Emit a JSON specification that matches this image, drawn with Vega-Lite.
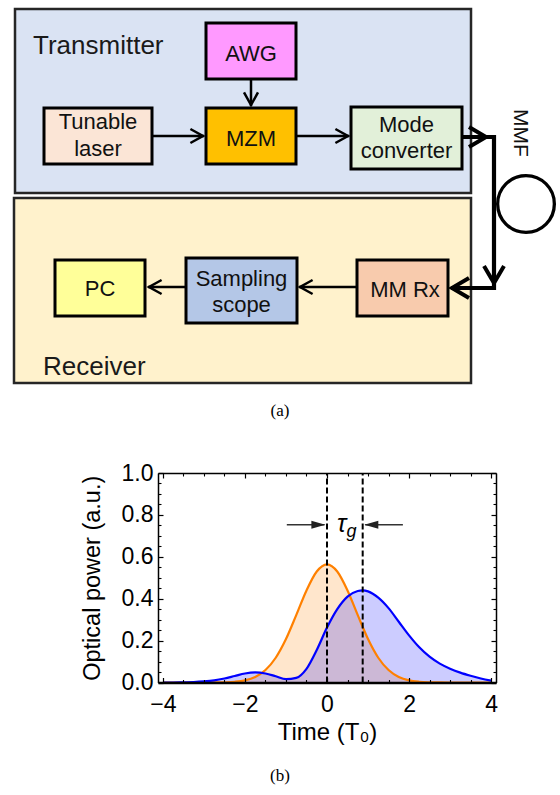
{
  "$schema": "https://vega.github.io/schema/vega-lite/v6.json",
  "width": 560,
  "height": 795,
  "autosize": {"type": "none"},
  "padding": 0,
  "background": "white",
  "config": {"font": "Liberation Sans", "view": {"stroke": null}},
  "datasets": {
    "panels": [
      {"name": "Transmitter", "x": 15, "x2": 471, "y": 9, "y2": 193},
      {"name": "Receiver", "x": 14, "x2": 471, "y": 198, "y2": 383}
    ],
    "blocks": [
      {"name": "AWG", "x": 206, "x2": 296, "y": 23, "y2": 79},
      {"name": "Tunable laser", "x": 44, "x2": 152, "y": 108, "y2": 164},
      {"name": "MZM", "x": 206, "x2": 296, "y": 108, "y2": 164},
      {"name": "Mode converter", "x": 351, "x2": 462, "y": 107, "y2": 169},
      {"name": "PC", "x": 55, "x2": 145, "y": 260, "y2": 316},
      {"name": "Sampling scope", "x": 186, "x2": 297, "y": 258, "y2": 323},
      {"name": "MM Rx", "x": 357, "x2": 448, "y": 260, "y2": 316}
    ],
    "wires": [
      {"x": 152, "x2": 204, "y": 136, "y2": 136},
      {"x": 296, "x2": 349, "y": 136, "y2": 136},
      {"x": 251, "x2": 251, "y": 79, "y2": 106},
      {"x": 357, "x2": 299, "y": 287, "y2": 287},
      {"x": 186, "x2": 148, "y": 287, "y2": 287}
    ],
    "fiber": [
      {"x": 462, "x2": 496, "y": 137, "y2": 137},
      {"x": 494, "x2": 494, "y": 135, "y2": 290},
      {"x": 496, "x2": 451, "y": 288, "y2": 288}
    ],
    "heads": [
      {"x": 203, "y": 136, "dir": "right", "w": "thin"},
      {"x": 348, "y": 136, "dir": "right", "w": "thin"},
      {"x": 251, "y": 105, "dir": "down", "w": "thin"},
      {"x": 300, "y": 287, "dir": "left", "w": "thin"},
      {"x": 149, "y": 287, "dir": "left", "w": "thin"},
      {"x": 486, "y": 137, "dir": "right", "w": "thick"},
      {"x": 494, "y": 283, "dir": "down", "w": "thick"},
      {"x": 452, "y": 288, "dir": "left", "w": "thick"}
    ],
    "loop": [{"x": 526, "y": 204}],
    "titles": [
      {"text": "Transmitter", "x": 33, "y": 54},
      {"text": "Receiver", "x": 43, "y": 375}
    ],
    "labels": [
      {"text": "Tunable", "x": 98, "y": 129},
      {"text": "laser", "x": 98, "y": 156},
      {"text": "AWG", "x": 251, "y": 61},
      {"text": "MZM", "x": 251, "y": 145.5},
      {"text": "Mode", "x": 406.5, "y": 132},
      {"text": "converter", "x": 406.5, "y": 158},
      {"text": "PC", "x": 100, "y": 296},
      {"text": "Sampling", "x": 241.5, "y": 286},
      {"text": "scope", "x": 241.5, "y": 312},
      {"text": "MM Rx", "x": 405, "y": 297}
    ],
    "mmf": [{"text": "MMF", "x": 520, "y": 133}],
    "captions": [
      {"text": "(a)", "x": 280, "y": 416},
      {"text": "(b)", "x": 280, "y": 781}
    ],
    "pulses": [
      {"t": -4, "p": 0, "series": "input"},
      {"t": -3.75, "p": 0, "series": "input"},
      {"t": -3.5, "p": 0, "series": "input"},
      {"t": -3.25, "p": 0, "series": "input"},
      {"t": -3, "p": 0.0001, "series": "input"},
      {"t": -2.75, "p": 0.0003, "series": "input"},
      {"t": -2.5, "p": 0.0011, "series": "input"},
      {"t": -2.25, "p": 0.0036, "series": "input"},
      {"t": -2, "p": 0.0103, "series": "input"},
      {"t": -1.75, "p": 0.0264, "series": "input"},
      {"t": -1.5, "p": 0.0595, "series": "input"},
      {"t": -1.25, "p": 0.1182, "series": "input"},
      {"t": -1, "p": 0.2076, "series": "input"},
      {"t": -0.75, "p": 0.3215, "series": "input"},
      {"t": -0.5, "p": 0.4394, "series": "input"},
      {"t": -0.25, "p": 0.53, "series": "input"},
      {"t": 0, "p": 0.5642, "series": "input"},
      {"t": 0.25, "p": 0.53, "series": "input"},
      {"t": 0.5, "p": 0.4394, "series": "input"},
      {"t": 0.75, "p": 0.3215, "series": "input"},
      {"t": 1, "p": 0.2076, "series": "input"},
      {"t": 1.25, "p": 0.1182, "series": "input"},
      {"t": 1.5, "p": 0.0595, "series": "input"},
      {"t": 1.75, "p": 0.0264, "series": "input"},
      {"t": 2, "p": 0.0103, "series": "input"},
      {"t": 2.25, "p": 0.0036, "series": "input"},
      {"t": 2.5, "p": 0.0011, "series": "input"},
      {"t": 2.75, "p": 0.0003, "series": "input"},
      {"t": 3, "p": 0.0001, "series": "input"},
      {"t": 3.25, "p": 0, "series": "input"},
      {"t": 3.5, "p": 0, "series": "input"},
      {"t": 3.75, "p": 0, "series": "input"},
      {"t": 4, "p": 0, "series": "input"},
      {"t": -4, "p": 0, "series": "output"},
      {"t": -3.75, "p": 0, "series": "output"},
      {"t": -3.5, "p": 0.001, "series": "output"},
      {"t": -3.25, "p": 0.002, "series": "output"},
      {"t": -3, "p": 0.005, "series": "output"},
      {"t": -2.75, "p": 0.01, "series": "output"},
      {"t": -2.5, "p": 0.019, "series": "output"},
      {"t": -2.25, "p": 0.031, "series": "output"},
      {"t": -2, "p": 0.043, "series": "output"},
      {"t": -1.75, "p": 0.048, "series": "output"},
      {"t": -1.5, "p": 0.043, "series": "output"},
      {"t": -1.25, "p": 0.03, "series": "output"},
      {"t": -1, "p": 0.016, "series": "output"},
      {"t": -0.75, "p": 0.022, "series": "output"},
      {"t": -0.5, "p": 0.065, "series": "output"},
      {"t": -0.25, "p": 0.155, "series": "output"},
      {"t": 0, "p": 0.262, "series": "output"},
      {"t": 0.25, "p": 0.35, "series": "output"},
      {"t": 0.5, "p": 0.41, "series": "output"},
      {"t": 0.75, "p": 0.437, "series": "output"},
      {"t": 0.875, "p": 0.44, "series": "output"},
      {"t": 1, "p": 0.435, "series": "output"},
      {"t": 1.25, "p": 0.405, "series": "output"},
      {"t": 1.5, "p": 0.355, "series": "output"},
      {"t": 1.75, "p": 0.29, "series": "output"},
      {"t": 2, "p": 0.225, "series": "output"},
      {"t": 2.25, "p": 0.168, "series": "output"},
      {"t": 2.5, "p": 0.123, "series": "output"},
      {"t": 2.75, "p": 0.09, "series": "output"},
      {"t": 3, "p": 0.066, "series": "output"},
      {"t": 3.25, "p": 0.047, "series": "output"},
      {"t": 3.5, "p": 0.032, "series": "output"},
      {"t": 3.75, "p": 0.019, "series": "output"},
      {"t": 4, "p": 0.009, "series": "output"}
    ],
    "delays": [
      {"t": 0, "p": 0, "p2": 1},
      {"t": 0.87, "p": 0, "p2": 1}
    ],
    "tauArrows": [
      {"t": -0.98, "t2": -0.06, "p": 0.753},
      {"t": 1.85, "t2": 0.93, "p": 0.753}
    ],
    "tauHeads": [
      {"t": -0.04, "p": 0.753, "dir": "right"},
      {"t": 0.91, "p": 0.753, "dir": "left"}
    ],
    "tauText": [
      {"label": "τ", "t": 0.36, "p": 0.716, "part": "main"},
      {"label": "g", "t": 0.6, "p": 0.696, "part": "sub"}
    ]
  },
  "layer": [
    {
      "encoding": {
        "x": {"field": "x", "type": "quantitative", "scale": {"domain": [0, 560], "nice": false, "zero": false}, "axis": null},
        "y": {"field": "y", "type": "quantitative", "scale": {"domain": [0, 795], "nice": false, "zero": false, "reverse": true}, "axis": null}
      },
      "layer": [
        {
          "data": {"name": "panels"},
          "mark": {"type": "rect", "stroke": "#262626", "strokeWidth": 2.5},
          "encoding": {
            "x2": {"field": "x2"},
            "y2": {"field": "y2"},
            "fill": {"field": "name", "type": "nominal", "legend": null,
              "scale": {"domain": ["Transmitter", "Receiver", "AWG", "Tunable laser", "MZM", "Mode converter", "PC", "Sampling scope", "MM Rx"],
                        "range": ["#dae3f3", "#fff2cc", "#ff99ff", "#fbe5d6", "#ffc000", "#e2f0d9", "#ffff99", "#b4c7e7", "#f8cbad"]}}
          }
        },
        {
          "data": {"name": "blocks"},
          "mark": {"type": "rect", "stroke": "black", "strokeWidth": 3},
          "encoding": {
            "x2": {"field": "x2"},
            "y2": {"field": "y2"},
            "fill": {"field": "name", "type": "nominal", "legend": null,
              "scale": {"domain": ["Transmitter", "Receiver", "AWG", "Tunable laser", "MZM", "Mode converter", "PC", "Sampling scope", "MM Rx"],
                        "range": ["#dae3f3", "#fff2cc", "#ff99ff", "#fbe5d6", "#ffc000", "#e2f0d9", "#ffff99", "#b4c7e7", "#f8cbad"]}}
          }
        },
        {
          "data": {"name": "wires"},
          "mark": {"type": "rule", "color": "black", "strokeWidth": 2.5},
          "encoding": {"x2": {"field": "x2"}, "y2": {"field": "y2"}}
        },
        {
          "data": {"name": "fiber"},
          "mark": {"type": "rule", "color": "black", "strokeWidth": 4.2},
          "encoding": {"x2": {"field": "x2"}, "y2": {"field": "y2"}}
        },
        {
          "data": {"name": "heads"},
          "transform": [{"filter": "datum.w === 'thin' && datum.dir === 'right'"}],
          "mark": {"type": "point", "shape": "M-1.8,-1L0,0L-1.8,1", "size": 196, "angle": 0, "filled": false, "stroke": "black", "strokeWidth": 2.5, "strokeJoin": "miter", "opacity": 1}
        },
        {
          "data": {"name": "heads"},
          "transform": [{"filter": "datum.w === 'thin' && datum.dir === 'down'"}],
          "mark": {"type": "point", "shape": "M-1.8,-1L0,0L-1.8,1", "size": 196, "angle": 90, "filled": false, "stroke": "black", "strokeWidth": 2.5, "strokeJoin": "miter", "opacity": 1}
        },
        {
          "data": {"name": "heads"},
          "transform": [{"filter": "datum.w === 'thin' && datum.dir === 'left'"}],
          "mark": {"type": "point", "shape": "M-1.8,-1L0,0L-1.8,1", "size": 196, "angle": 180, "filled": false, "stroke": "black", "strokeWidth": 2.5, "strokeJoin": "miter", "opacity": 1}
        },
        {
          "data": {"name": "heads"},
          "transform": [{"filter": "datum.w === 'thick' && datum.dir === 'right'"}],
          "mark": {"type": "point", "shape": "M-1.7,-1L0,0L-1.7,1", "size": 400, "angle": 0, "filled": false, "stroke": "black", "strokeWidth": 4, "strokeJoin": "miter", "opacity": 1}
        },
        {
          "data": {"name": "heads"},
          "transform": [{"filter": "datum.w === 'thick' && datum.dir === 'down'"}],
          "mark": {"type": "point", "shape": "M-1.7,-1L0,0L-1.7,1", "size": 400, "angle": 90, "filled": false, "stroke": "black", "strokeWidth": 4, "strokeJoin": "miter", "opacity": 1}
        },
        {
          "data": {"name": "heads"},
          "transform": [{"filter": "datum.w === 'thick' && datum.dir === 'left'"}],
          "mark": {"type": "point", "shape": "M-1.7,-1L0,0L-1.7,1", "size": 400, "angle": 180, "filled": false, "stroke": "black", "strokeWidth": 4, "strokeJoin": "miter", "opacity": 1}
        },
        {
          "data": {"name": "loop"},
          "mark": {"type": "point", "shape": "circle", "size": 3217, "filled": false, "stroke": "black", "strokeWidth": 3.3, "opacity": 1}
        },
        {
          "data": {"name": "titles"},
          "mark": {"type": "text", "align": "left", "baseline": "alphabetic", "fontSize": 26, "color": "#1a1a1a"},
          "encoding": {"text": {"field": "text", "type": "nominal"}}
        },
        {
          "data": {"name": "labels"},
          "mark": {"type": "text", "align": "center", "baseline": "alphabetic", "fontSize": 22, "color": "#111111"},
          "encoding": {"text": {"field": "text", "type": "nominal"}}
        },
        {
          "data": {"name": "mmf"},
          "mark": {"type": "text", "align": "center", "baseline": "middle", "angle": 90, "fontSize": 21, "color": "#111111"},
          "encoding": {"text": {"field": "text", "type": "nominal"}}
        },
        {
          "data": {"name": "captions"},
          "mark": {"type": "text", "align": "center", "baseline": "alphabetic", "fontSize": 17, "font": "Liberation Serif", "color": "black"},
          "encoding": {"text": {"field": "text", "type": "nominal"}}
        }
      ]
    },
    {
      "data": {"name": "pulses"},
      "encoding": {
        "x": {"field": "t", "type": "quantitative",
          "scale": {"domain": [-4.12, 4.12], "range": [158, 496], "nice": false, "zero": false},
          "axis": {"orient": "bottom", "offset": -112.5, "grid": false, "zindex": 1,
            "values": [-4, -2, 0, 2, 4], "format": "d",
            "labelFlush": false, "labelFontSize": 23, "labelColor": "black", "labelPadding": 16,
            "tickSize": -5, "tickColor": "black", "tickWidth": 1.2, "domainColor": "black", "domainWidth": 2.5,
            "title": "Time (T₀)", "titleFontSize": 24, "titleFontWeight": "normal", "titleColor": "black", "titleY": 38}},
        "y": {"field": "p", "type": "quantitative",
          "scale": {"domain": [0, 1], "range": [682.5, 473], "nice": false, "zero": false},
          "axis": {"orient": "left", "offset": -158, "grid": false, "zindex": 1,
            "values": [0, 0.2, 0.4, 0.6, 0.8, 1], "format": ".1f",
            "labelFlush": false, "labelFontSize": 23, "labelColor": "black", "labelPadding": 10,
            "tickSize": -5, "tickColor": "black", "tickWidth": 1.2, "domainColor": "black", "domainWidth": 1.5,
            "title": "Optical power (a.u.)", "titleFontSize": 23.5, "titleFontWeight": "normal", "titleColor": "black", "titleX": -54}}
      },
      "layer": [
        {"transform": [{"filter": "datum.series === 'input'"}], "mark": {"type": "area", "interpolate": "monotone", "color": "#ff8000", "opacity": 0.2}},
        {"transform": [{"filter": "datum.series === 'output'"}], "mark": {"type": "area", "interpolate": "monotone", "color": "#0000ff", "opacity": 0.2}},
        {"transform": [{"filter": "datum.series === 'input'"}], "mark": {"type": "line", "interpolate": "monotone", "color": "#ff8000", "strokeWidth": 2.2}},
        {"transform": [{"filter": "datum.series === 'output'"}], "mark": {"type": "line", "interpolate": "monotone", "color": "#0000ff", "strokeWidth": 2.2}}
      ]
    },
    {
      "data": {"name": "delays"},
      "encoding": {
        "x": {"field": "t", "type": "quantitative",
          "scale": {"domain": [-4.12, 4.12], "range": [158, 496], "nice": false, "zero": false},
          "axis": {"orient": "top", "offset": -473, "grid": false, "zindex": 1, "labels": false, "title": null,
            "values": [-4, -2, 0, 2, 4],
            "tickSize": -5, "tickColor": "black", "tickWidth": 1.2, "domainColor": "black", "domainWidth": 1.5}},
        "y": {"field": "p", "type": "quantitative",
          "scale": {"domain": [0, 1], "range": [682.5, 473], "nice": false, "zero": false},
          "axis": {"orient": "right", "offset": -64, "grid": false, "zindex": 1, "labels": false, "title": null,
            "values": [0, 0.2, 0.4, 0.6, 0.8, 1],
            "tickSize": -5, "tickColor": "black", "tickWidth": 1.2, "domainColor": "black", "domainWidth": 1.5}},
        "y2": {"field": "p2"}
      },
      "mark": {"type": "rule", "color": "black", "strokeWidth": 2, "strokeDash": [6, 3]}
    },
    {
      "data": {"name": "tauArrows"},
      "encoding": {
        "x": {"field": "t", "type": "quantitative",
          "scale": {"domain": [-4.12, 4.12], "range": [158, 496], "nice": false, "zero": false},
          "axis": {"orient": "bottom", "offset": -112.5, "grid": false, "zindex": 1, "labels": false, "title": null, "domain": false,
            "values": [-3.5, -3, -2.5, -1.5, -1, -0.5, 0.5, 1, 1.5, 2.5, 3, 3.5],
            "tickSize": -3, "tickColor": "black", "tickWidth": 1.1}},
        "y": {"field": "p", "type": "quantitative",
          "scale": {"domain": [0, 1], "range": [682.5, 473], "nice": false, "zero": false},
          "axis": {"orient": "left", "offset": -158, "grid": false, "zindex": 1, "labels": false, "title": null, "domain": false,
            "values": [0.05, 0.1, 0.15, 0.25, 0.3, 0.35, 0.45, 0.5, 0.55, 0.65, 0.7, 0.75, 0.85, 0.9, 0.95],
            "tickSize": -3, "tickColor": "black", "tickWidth": 1.1}},
        "x2": {"field": "t2"}
      },
      "mark": {"type": "rule", "color": "#333333", "strokeWidth": 1.5}
    },
    {
      "encoding": {
        "x": {"field": "t", "type": "quantitative",
          "scale": {"domain": [-4.12, 4.12], "range": [158, 496], "nice": false, "zero": false},
          "axis": {"orient": "top", "offset": -473, "grid": false, "zindex": 1, "labels": false, "title": null, "domain": false,
            "values": [-3.5, -3, -2.5, -1.5, -1, -0.5, 0.5, 1, 1.5, 2.5, 3, 3.5],
            "tickSize": -3, "tickColor": "black", "tickWidth": 1.1}},
        "y": {"field": "p", "type": "quantitative",
          "scale": {"domain": [0, 1], "range": [682.5, 473], "nice": false, "zero": false},
          "axis": {"orient": "right", "offset": -64, "grid": false, "zindex": 1, "labels": false, "title": null, "domain": false,
            "values": [0.05, 0.1, 0.15, 0.25, 0.3, 0.35, 0.45, 0.5, 0.55, 0.65, 0.7, 0.75, 0.85, 0.9, 0.95],
            "tickSize": -3, "tickColor": "black", "tickWidth": 1.1}}
      },
      "layer": [
        {
          "data": {"name": "tauHeads"},
          "transform": [{"filter": "datum.dir === 'right'"}],
          "mark": {"type": "point", "shape": "M-3.5,-1L0,0L-3.5,1Z", "size": 64, "angle": 0, "filled": true, "color": "#222222", "opacity": 1}
        },
        {
          "data": {"name": "tauHeads"},
          "transform": [{"filter": "datum.dir === 'left'"}],
          "mark": {"type": "point", "shape": "M-3.5,-1L0,0L-3.5,1Z", "size": 64, "angle": 180, "filled": true, "color": "#222222", "opacity": 1}
        },
        {
          "data": {"name": "tauText"},
          "transform": [{"filter": "datum.part === 'main'"}],
          "mark": {"type": "text", "align": "center", "baseline": "alphabetic", "fontSize": 25, "fontStyle": "italic", "color": "black"},
          "encoding": {"text": {"field": "label", "type": "nominal"}}
        },
        {
          "data": {"name": "tauText"},
          "transform": [{"filter": "datum.part === 'sub'"}],
          "mark": {"type": "text", "align": "center", "baseline": "alphabetic", "fontSize": 18, "fontStyle": "italic", "color": "black"},
          "encoding": {"text": {"field": "label", "type": "nominal"}}
        }
      ]
    }
  ],
  "resolve": {"scale": {"x": "independent", "y": "independent"}, "axis": {"x": "independent", "y": "independent"}}
}
